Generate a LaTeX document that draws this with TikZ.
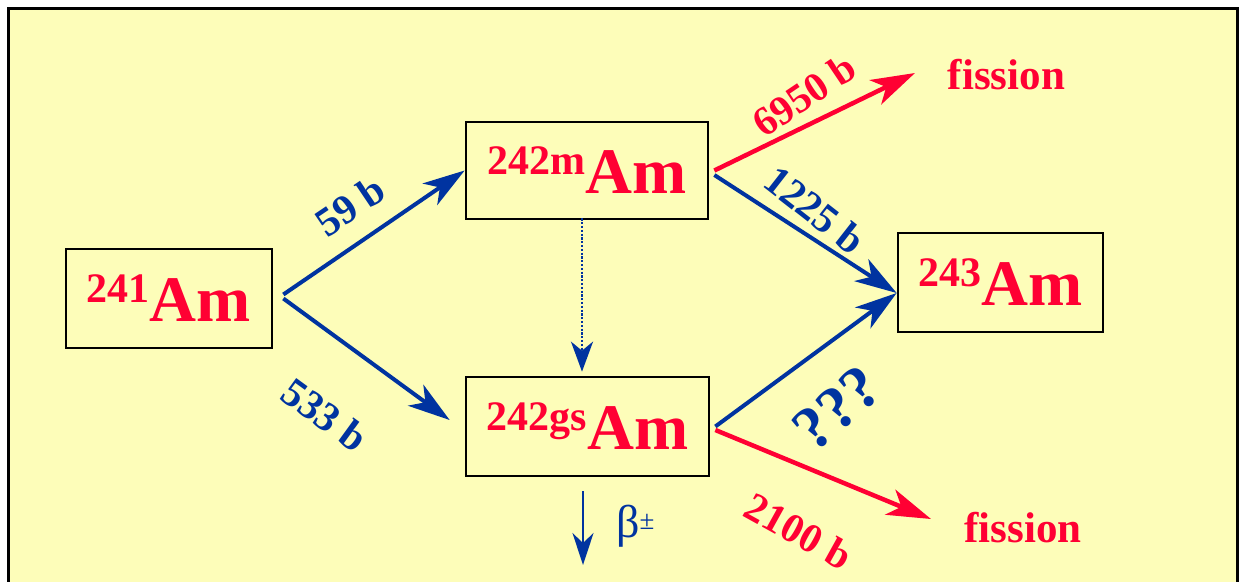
\documentclass[tikz,border=0pt]{standalone}
\usepackage{fontspec}
\setmainfont{Liberation Serif}
\usetikzlibrary{arrows.meta}
\definecolor{bg}{RGB}{253,253,185}
\definecolor{amred}{RGB}{255,0,51}
\definecolor{amblue}{RGB}{0,51,160}
\newcommand{\isotope}[1]{\raisebox{19pt}{\fontsize{42}{42}\selectfont #1}\fontsize{65}{65}\selectfont Am}
\begin{document}
\begin{tikzpicture}[x=1pt,y=-1pt,
  nuc/.style={draw=black, line width=2.7pt, fill=bg, inner sep=0pt, text=amred, font=\bfseries},
  bluearrow/.style={draw=amblue, line width=4pt, -{Stealth[length=42pt,width=26pt,inset=12pt]}},
  redarrow/.style={draw=amred, line width=4.5pt, -{Stealth[length=44pt,width=27pt,inset=12pt]}},
  lbl/.style={font=\bfseries\fontsize{41}{41}\selectfont, inner sep=0pt},
  fis/.style={font=\bfseries\fontsize{43}{43}\selectfont, inner sep=0pt, text=amred},
]
\useasboundingbox (0,0) rectangle (1239,581);
\fill[bg] (8,8) rectangle (1237,600);
\draw[line width=3pt] (8,600) -- (8,8) -- (1237,8) -- (1237,600);

\node[nuc, minimum width=206pt, minimum height=99pt] (a241) at (169,298.5) {\isotope{241}};
\node[nuc, minimum width=242pt, minimum height=97pt] (a242m) at (587,170.5) {\isotope{242m}};
\node[nuc, minimum width=243pt, minimum height=99pt] (a242g) at (587.5,426.5) {\isotope{242gs}};
\node[nuc, minimum width=205pt, minimum height=99pt] (a243) at (1000.5,282.5) {\isotope{243}};

\node[fis] (f1) at (1006.5,75) {fission};
\node[fis] (f2) at (1023,528) {fission};

\coordinate (t1) at (915,73);
\coordinate (t2) at (931,519);
\coordinate (t3) at (583,565);

\draw[bluearrow] ([xshift=10pt,yshift=4pt]a241.east) -- (a242m.west);
\draw[bluearrow] ([xshift=10pt]a241.east) -- ([xshift=-15pt,yshift=6.5pt]a242g.west);
\draw[redarrow] ([xshift=5pt]a242m.east) -- (t1);
\draw[bluearrow] ([xshift=5pt,yshift=-4.5pt]a242m.east) -- ([yshift=-10.5pt]a243.west);
\draw[bluearrow] ([xshift=5pt]a242g.east) -- ([yshift=-10.5pt]a243.west);
\draw[redarrow] ([xshift=5pt,yshift=-3.5pt]a242g.east) -- (t2);
\draw[draw=amblue, line width=2.7pt, dash pattern=on 2.2pt off 1.6pt, -{Stealth[length=30pt,width=22pt,inset=9pt]}]
  ([xshift=-5pt,yshift=2pt]a242m.south) -- ([xshift=-5.5pt,yshift=4pt]a242g.north);
\draw[draw=amblue, line width=2pt, -{Stealth[length=32pt,width=21pt,inset=10pt]}]
  ([xshift=-4.5pt,yshift=-14pt]a242g.south) -- (t3);

\node[anchor=base west, inner sep=0pt, text=amblue] (beta) at (616,537)
  {\fontsize{46}{46}\selectfont β\raisebox{8pt}{\fontsize{27}{27}\selectfont ±}};

\node[lbl, text=amblue, rotate=34] (l59) at (350,206) {59 b};
\node[lbl, text=amblue, rotate=-36] (l533) at (325,415) {533 b};
\node[lbl, text=amred, rotate=34] (l6950) at (804,95) {6950 b};
\node[lbl, text=amblue, rotate=-38] (l1225) at (815,210) {1225 b};
\node[font=\bfseries\fontsize{62}{62}\selectfont, inner sep=0pt, text=amblue, rotate=40] (lq) at (837,408) {???};
\node[lbl, text=amred, rotate=-29] (l2100) at (799,531) {2100 b};
\end{tikzpicture}
\end{document}
